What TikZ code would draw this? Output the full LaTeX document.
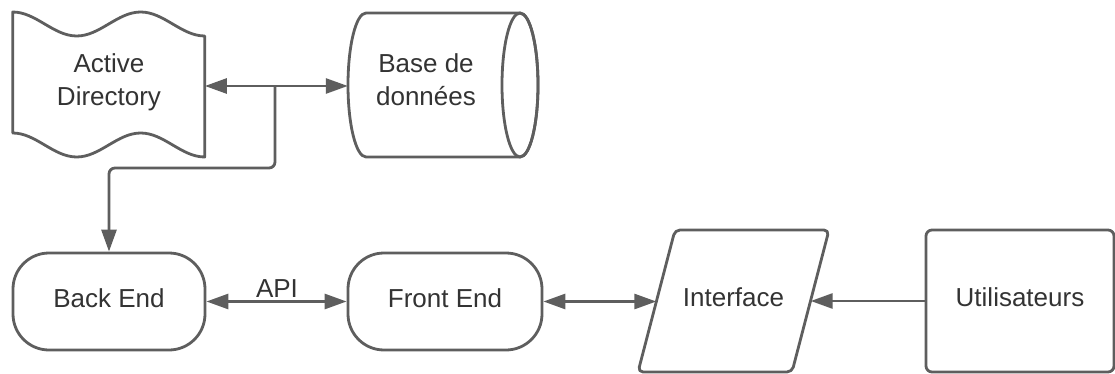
\documentclass[tikz,border=0pt]{standalone}
\usepackage{fontspec}
\setmainfont{Liberation Sans}
\usetikzlibrary{arrows.meta}
\definecolor{ln}{HTML}{5E5E5E}
\definecolor{tx}{HTML}{333333}
\begin{document}
\begin{tikzpicture}[x=1pt,y=-1pt,
  shp/.style={draw=ln, line width=2.8pt, fill=white, line join=round},
  lbl/.style={text=tx, font=\fontsize{26}{33}\selectfont, inner sep=0pt},
  box/.style={shp, lbl, text height=19pt, text depth=8pt},
  conn/.style={draw=ln, line width=2.8pt, -{Triangle[length=22pt,width=15pt]}},
  dconn/.style={draw=ln, line width=2.8pt, {Triangle[length=22pt,width=15pt]}-{Triangle[length=22pt,width=15pt]}},
]
\useasboundingbox (0,0) rectangle (1115,374);
\fill[white] (0,0) rectangle (1115,374);

% Active Directory (paper tape)
\draw[shp] (12.7,12) cos (44.7,24) sin (76.7,36) cos (108.7,24) sin (140.7,12) cos (172.7,24) sin (204.7,36)
  -- (204.7,157) cos (172.7,145) sin (140.7,133) cos (108.7,145) sin (76.7,157) cos (44.7,145) sin (12.7,133) -- cycle;
\node[inner sep=0pt, minimum width=192pt, minimum height=146pt] (ad) at (108.7,86) {};
\node[lbl, align=center] (adt) at (109,82.7) {Active\\Directory};

% Base de donnees (cylinder)
\draw[shp] (366,13) -- (520,13) arc[start angle=-90, end angle=90, x radius=18, y radius=72]
  -- (366,157) arc[start angle=90, end angle=270, x radius=18, y radius=72] -- cycle;
\draw[shp, fill=none] (520,85) ellipse[x radius=18, y radius=72];
\node[inner sep=0pt, minimum width=190pt, minimum height=144pt] (db) at (443,86) {};
\node[lbl, align=center] (dbt) at (426,79.7) {Base de\\données};

% bottom row
\node[box, rounded corners=36pt, minimum width=192pt, minimum height=97pt] (be) at (109,301.5) {Back End};
\node[box, rounded corners=36pt, minimum width=194pt, minimum height=97pt] (fe) at (445,301.5) {Front End};
\draw[shp, rounded corners=5pt] (638,372) -- (675,230) -- (829,230) -- (792,372) -- cycle;
\node[lbl, text height=19pt, text depth=8pt, minimum width=154pt, minimum height=142pt] (if) at (733.5,301) {Interface};
\node[box, rounded corners=6pt, minimum width=188pt, minimum height=142pt] (ut) at (1020,301) {Utilisateurs};

% connectors
\coordinate (jn) at (275,86);
\draw[dconn] (ad.east) -- (db.west);
\draw[conn, rounded corners=6pt] (jn) -- (275,168) -| (be.north);
\node[lbl, anchor=base] (api) at (277,297) {API};
\draw[dconn] (be.east) -- (fe.west);
\draw[dconn] (fe.east) -- (fe.east -| if.west);
\draw[conn] (ut.west) -- (if.east);
\end{tikzpicture}
\end{document}
